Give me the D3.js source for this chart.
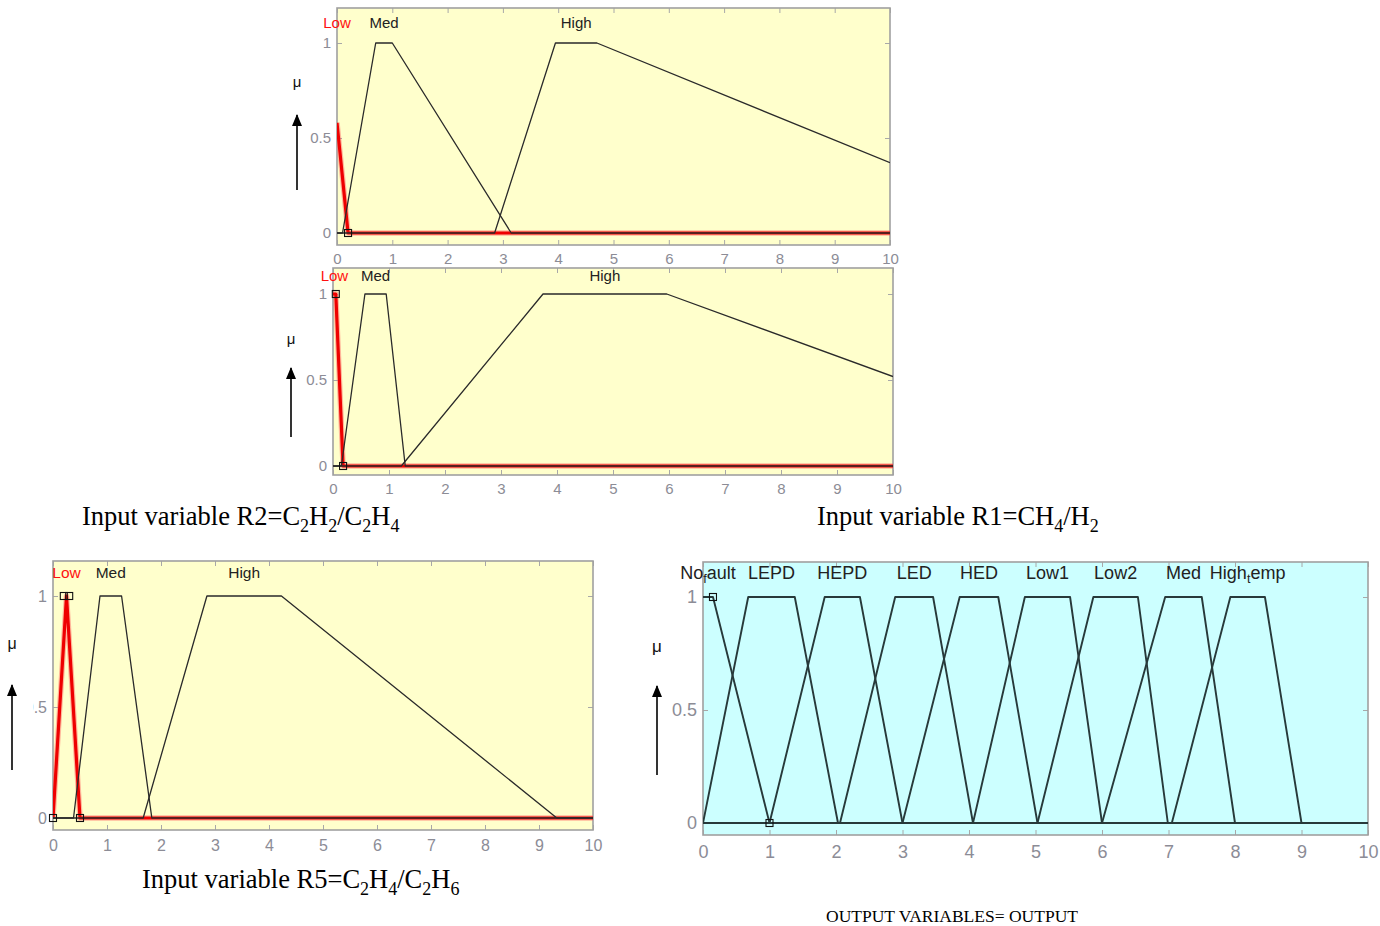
<!DOCTYPE html>
<html><head><meta charset="utf-8">
<script src="https://cdn.jsdelivr.net/npm/d3@7"></script>
<style>body{margin:0;background:#fff;} svg{display:block}</style>
</head><body><svg id="c" width="1380" height="926"></svg>
<script>
// ---------- data ----------
const xTickValues = [0,1,2,3,4,5,6,7,8,9,10];
const yTickValues = [0,0.5,1];
const inputNames = ["Low","Med","High"];

// top input panel
const topLowMF  = [[0,0.58],[0.2,0],[10,0]];
const topMedMF  = [[0,0],[0.1,0],[0.7,1],[1.0,1],[3.15,0],[10,0]];
const topHighMF = [[0,0],[2.85,0],[3.95,1],[4.7,1],[10,0.37]];
const topMarkers = [[0.2,0]];

// second input panel
const midLowMF  = [[0,1],[0.05,1],[0.18,0],[10,0]];
const midMedMF  = [[0,0],[0.15,0],[0.57,1],[0.95,1],[1.29,0],[10,0]];
const midHighMF = [[0,0],[1.22,0],[3.75,1],[5.96,1],[10,0.52]];
const midMarkers = [[0.05,1],[0.18,0]];

// R5 input panel
const r5LowMF  = [[0,0],[0.25,1],[0.5,0],[10,0]];
const r5MedMF  = [[0,0],[0.38,0],[0.87,1],[1.27,1],[1.83,0],[10,0]];
const r5HighMF = [[0,0],[1.67,0],[2.85,1],[4.23,1],[9.33,0],[10,0]];
const r5Markers = [[0,0],[0.2,1],[0.3,1],[0.5,0]];

// output panel
const outNames = ["No_fault","LEPD","HEPD","LED","HED","Low1","Low2","Med","High_temp"];
const outMFs = [
  [[0,1],[0.15,1],[1,0],[10,0]],
  [[0,0],[0.68,1],[1.38,1],[2.03,0],[10,0]],
  [[0,0],[1.0,0],[1.83,1],[2.36,1],[3.0,0],[10,0]],
  [[0,0],[2.06,0],[2.89,1],[3.46,1],[4.06,0],[10,0]],
  [[0,0],[3.0,0],[3.86,1],[4.44,1],[5.03,0],[10,0]],
  [[0,0],[4.06,0],[4.84,1],[5.52,1],[6.0,0],[10,0]],
  [[0,0],[5.03,0],[5.87,1],[6.54,1],[6.99,0],[10,0]],
  [[0,0],[6.0,0],[6.95,1],[7.5,1],[8.0,0],[10,0]],
  [[0,0],[7.05,0],[7.93,1],[8.45,1],[9.0,0],[10,0]]
];
const outMarkers = [[0.15,1],[1,0]];

// ---------- drawing ----------
const svg = d3.select("#c");
const SANS = "'Liberation Sans', Arial, sans-serif";
const SERIF = "'Liberation Serif', 'Times New Roman', serif";
const TICKGREY = "#8c8c96";

const defs = svg.append("defs");
defs.append("marker")
  .attr("id","arrow").attr("viewBox","0 0 12 10").attr("refX",11).attr("refY",5)
  .attr("markerWidth",12).attr("markerHeight",10).attr("markerUnits","userSpaceOnUse")
  .attr("orient","auto")
  .append("path").attr("d","M0,0 L12,5 L0,10 Z").attr("fill","#000");

function addLabel(g, txt, cx, cy, fs, color){
  const t = g.append("text").attr("x",cx).attr("y",cy)
    .attr("text-anchor","middle").attr("dominant-baseline","middle")
    .attr("font-family",SANS).attr("font-size",fs).attr("fill",color);
  const i = txt.indexOf("_");
  if(i<0){ t.text(txt); return; }
  t.append("tspan").text(txt.slice(0,i));
  t.append("tspan").attr("font-size",fs*0.7).attr("dy",fs*0.3).text(txt.slice(i+1,i+2));
  t.append("tspan").attr("dy",-fs*0.3).text(txt.slice(i+2));
}

let clipId = 0;
function panel(cfg){
  const x = d3.scaleLinear().domain([0,10]).range([cfg.left,cfg.right]);
  const y = d3.scaleLinear().domain([0,1]).range([cfg.y0,cfg.y1]);
  const g = svg.append("g");
  const W = cfg.right-cfg.left, H = cfg.bottom-cfg.top;
  g.append("rect").attr("x",cfg.left).attr("y",cfg.top).attr("width",W).attr("height",H)
    .attr("fill",cfg.bg);

  const id = "clip"+(clipId++);
  defs.append("clipPath").attr("id",id).append("rect")
    .attr("x",cfg.left).attr("y",cfg.top).attr("width",W).attr("height",H);

  const fmt = d => String(d);
  const ax = (a, tx, ty, labels, pad) => {
    const gg = g.append("g").attr("transform",`translate(${tx},${ty})`)
      .call(a.tickSizeInner(-5).tickSizeOuter(0).tickPadding(pad).tickFormat(labels?fmt:()=>""));
    gg.select(".domain").remove();
    gg.selectAll("line").attr("stroke","#a8a8a8");
    gg.selectAll("text").attr("fill",TICKGREY).attr("font-family",SANS).attr("font-size",cfg.tickFs);
    return gg;
  };
  ax(d3.axisBottom(x).tickValues(xTickValues), 0, cfg.bottom, true, cfg.xPad);
  ax(d3.axisTop(x).tickValues(xTickValues), 0, cfg.top, false, 0);
  const yl = ax(d3.axisLeft(y).tickValues(yTickValues), cfg.left, 0, true, cfg.yPad);
  ax(d3.axisRight(y).tickValues(yTickValues), cfg.right, 0, false, 0);
  if(cfg.yLabelClip){
    // the reference shows this label partly cut off on its left
    const cid = "clip"+(clipId++);
    const yy = y(0.5);
    defs.append("clipPath").attr("id",cid).append("rect")
      .attr("x",cfg.yLabelClip - cfg.left).attr("y",-50).attr("width",200).attr("height",100);
    yl.selectAll(".tick").filter(d=>d===0.5).select("text").attr("clip-path",`url(#${cid})`);
  }

  g.append("rect").attr("x",cfg.left).attr("y",cfg.top).attr("width",W).attr("height",H)
    .attr("fill","none").attr("stroke","#a0a0a0").attr("stroke-width",1.6);

  const line = d3.line().x(d=>x(d[0])).y(d=>y(d[1]));
  const pg = g.append("g").attr("clip-path",`url(#${id})`);
  if(cfg.red){
    pg.append("path").attr("d",line(cfg.red)).attr("fill","none")
      .attr("stroke","#ff6060").attr("stroke-opacity",0.45).attr("stroke-width",5.5).attr("stroke-linejoin","round");
    pg.append("path").attr("d",line(cfg.red)).attr("fill","none")
      .attr("stroke","#ee0000").attr("stroke-width",3.2).attr("stroke-linejoin","round");
  }
  cfg.black.forEach(mf=>{
    pg.append("path").attr("d",line(mf)).attr("fill","none")
      .attr("stroke",cfg.lineColor).attr("stroke-width",cfg.lineW).attr("stroke-linejoin","round");
  });
  cfg.markers.forEach(m=>{
    g.append("rect").attr("x",x(m[0])-3.5).attr("y",y(m[1])-3.5).attr("width",7).attr("height",7)
      .attr("fill","none").attr("stroke","#111").attr("stroke-width",1.1);
  });

  cfg.names.forEach((n,i)=>{
    const mf = cfg.all[i];
    const mx = d3.max(mf, d=>d[1]);
    const cx = Math.max(0, d3.mean(mf.filter(d=>d[1]===mx), d=>d[0]));
    addLabel(g, n, x(cx), y(1.1), cfg.labelFs, (cfg.red && i===0) ? "#ff1010" : "#222");
  });

  g.append("text").attr("x",cfg.muX).attr("y",cfg.muY).attr("text-anchor","middle")
    .attr("dominant-baseline","middle").attr("font-family",SANS).attr("font-size",cfg.muFs)
    .attr("fill","#111").text("μ");
  g.append("line").attr("x1",cfg.muX).attr("x2",cfg.muX).attr("y1",cfg.arrowY1).attr("y2",cfg.arrowY2)
    .attr("stroke","#000").attr("stroke-width",1.6).attr("marker-end","url(#arrow)");
}

panel({left:337,right:890,top:8,bottom:245,y0:233,y1:43,bg:"#ffffcc",
  red:topLowMF, black:[topMedMF,topHighMF], all:[topLowMF,topMedMF,topHighMF], names:inputNames,
  markers:topMarkers, tickFs:15, labelFs:15, xPad:8, yPad:6, lineColor:"#2a2a2a", lineW:1.3,
  muX:297, muY:83, muFs:15, arrowY1:190, arrowY2:115});

panel({left:333,right:893,top:268,bottom:475,y0:466,y1:294,bg:"#ffffcc",
  red:midLowMF, black:[midMedMF,midHighMF], all:[midLowMF,midMedMF,midHighMF], names:inputNames,
  markers:midMarkers, tickFs:15, labelFs:15, xPad:8, yPad:6, lineColor:"#2a2a2a", lineW:1.3,
  muX:291, muY:340, muFs:15, arrowY1:437, arrowY2:368});

panel({left:53,right:593,top:561,bottom:830,y0:818,y1:596,bg:"#ffffcc",
  red:r5LowMF, black:[r5MedMF,r5HighMF], all:[r5LowMF,r5MedMF,r5HighMF], names:inputNames,
  markers:r5Markers, tickFs:16, labelFs:15.5, xPad:10, yPad:6, lineColor:"#2a2a2a", lineW:1.3,
  muX:12, muY:645, muFs:16, arrowY1:770, arrowY2:685, yLabelClip:33});

panel({left:703,right:1368,top:562,bottom:835,y0:823,y1:597,bg:"#ccffff",
  red:null, black:outMFs, all:outMFs, names:outNames,
  markers:outMarkers, tickFs:18, labelFs:18, xPad:10, yPad:6, lineColor:"#27393a", lineW:1.9,
  muX:657, muY:648, muFs:17, arrowY1:775, arrowY2:686});

// ---------- captions ----------
function caption(parts, x, y, fs){
  const t = svg.append("text").attr("x",x).attr("y",y).attr("font-family",SERIF)
    .attr("font-size",fs).attr("fill","#000");
  let shift = 0;
  parts.forEach(p=>{
    const sub = typeof p !== "string";
    const s = sub ? p.sub : p;
    const want = sub ? fs*0.28 : 0;
    t.append("tspan").attr("dy",want-shift).attr("font-size",sub?fs*0.68:fs).text(s);
    shift = want;
  });
}
caption(["Input variable R2=C",{sub:"2"},"H",{sub:"2"},"/C",{sub:"2"},"H",{sub:"4"}], 82, 525, 26.5);
caption(["Input variable R1=CH",{sub:"4"},"/H",{sub:"2"}], 817, 525, 26.5);
caption(["Input variable R5=C",{sub:"2"},"H",{sub:"4"},"/C",{sub:"2"},"H",{sub:"6"}], 142, 888, 26.5);
caption(["OUTPUT VARIABLES= OUTPUT"], 826, 922, 17.5);
</script></body></html>
